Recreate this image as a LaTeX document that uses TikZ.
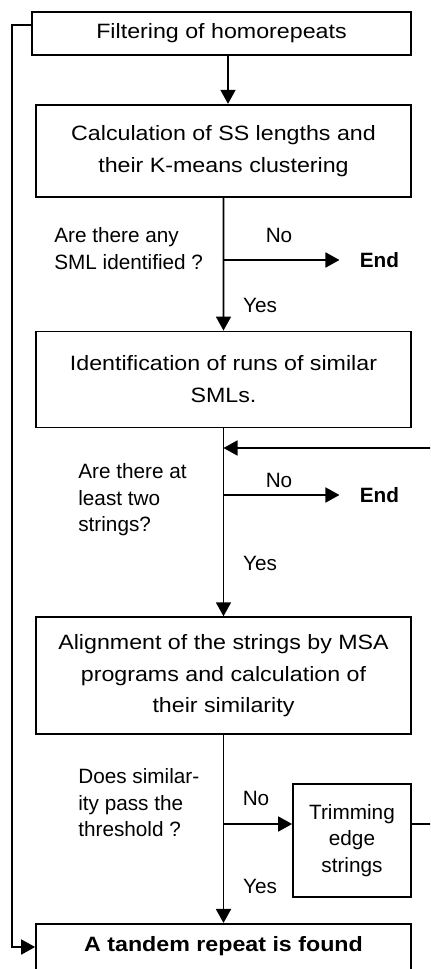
\documentclass[tikz,border=0pt]{standalone}
\usepackage{fontspec}
\setmainfont{Liberation Sans}
\newfontfamily\boxfont{Liberation Sans}[FakeStretch=1.12]
\usepackage{tikz}
\usetikzlibrary{arrows.meta, positioning, calc}
\tikzstyle{stepbox} = [rectangle, minimum width=7.5cm, align=center, draw=black, line width=1pt, font=\boxfont\fontsize{11.8}{18.2}\selectfont]
\tikzstyle{question} = [anchor=north west, align=left, inner sep=0pt, font=\fontsize{11.8}{15.2}\selectfont]
\tikzstyle{lbl} = [inner sep=0pt, font=\fontsize{11.8}{14}\selectfont]
\tikzstyle{endlbl} = [inner sep=0pt, font=\fontsize{11.8}{14}\selectfont\bfseries]
\tikzstyle{arrow} = [line width=1pt, -{Triangle[length=0.28cm, width=0.3cm]}]

\begin{document}
\begin{tikzpicture}[x=0.02cm, y=-0.02cm]
    \useasboundingbox (0,0) rectangle (430,969);
    \clip (0,0) rectangle (430,969);

    \node (filter) [stepbox, minimum width=7.58cm, minimum height=0.86cm] at (221.5,33.5) {Filtering of homorepeats};
    \node (calc) [stepbox, minimum height=1.84cm, below=0.96cm of filter, xshift=0.04cm] {Calculation of SS lengths and\\their K-means clustering};
    \node (ident) [stepbox, minimum height=1.92cm, below=2.66cm of calc] {Identification of runs of similar\\SMLs.};
    \node (align) [stepbox, minimum height=2.34cm, below=3.76cm of ident] {Alignment of the strings by MSA\\programs and calculation of\\their similarity};
    \node (trim) [stepbox, minimum width=2.36cm, minimum height=2.26cm, below=0.96cm of align.south east, anchor=north east, font=\fontsize{11.8}{15.2}\selectfont] {Trimming\\edge\\strings};
    \node (found) [stepbox, below=3.76cm of align, inner ysep=0.16cm, text height=0.4cm, text depth=0.6cm, font=\boxfont\fontsize{11.8}{18.2}\selectfont\bfseries] {A tandem repeat is found};

    % questions on the branches
    \node (q1) [question] at (54,227) {Are there any\\SML identified ?};
    \node (q2) [question] at (78,463) {Are there at\\least two\\strings?};
    \node (q3) [question] at (78,768) {Does similar-\\ity pass the\\threshold ?};

    \coordinate (b1) at (223.5,260);
    \coordinate (b2) at (223.5,495);
    \coordinate (b3) at (223.5,824);
    \coordinate (ltop) at (12,25);
    \coordinate (lbot) at (12,947);
    \coordinate (rtop) at (460,448);

    \node (end1) [endlbl, right=2.72cm of b1, anchor=west] {End};
    \node (end2) [endlbl, right=2.72cm of b2, anchor=west] {End};

    \node (no1) [lbl] at (279,235) {No};
    \node (yes1) [lbl] at (260,305) {Yes};
    \node (no2) [lbl] at (279,480) {No};
    \node (yes2) [lbl] at (260,563) {Yes};
    \node (no3) [lbl] at (256,798) {No};
    \node (yes3) [lbl] at (260,886) {Yes};

    \draw [arrow] ([xshift=0.13cm]filter.south) -- ([xshift=0.09cm]calc.north);
    \draw [line width=1pt] (calc.south) -- (b1);
    \draw [arrow] (b1) -- (ident.north);
    \draw [arrow, shorten >=0.4cm] (b1) -- (end1.west);
    \draw [arrow] (ident.south) -- (align.north);
    \draw [arrow, shorten >=0.4cm] (b2) -- (end2.west);
    \draw [arrow] (align.south) -- (found.north);
    \draw [arrow] (b3) -- (b3 -| trim.west);
    \draw [arrow] (b3 -| trim.east) -- (b3 -| rtop) -- (rtop) -- (rtop -| ident.south);
    \draw [arrow] (filter.west |- ltop) -- (ltop) -- (lbot) -- (found.west |- lbot);
\end{tikzpicture}
\end{document}
